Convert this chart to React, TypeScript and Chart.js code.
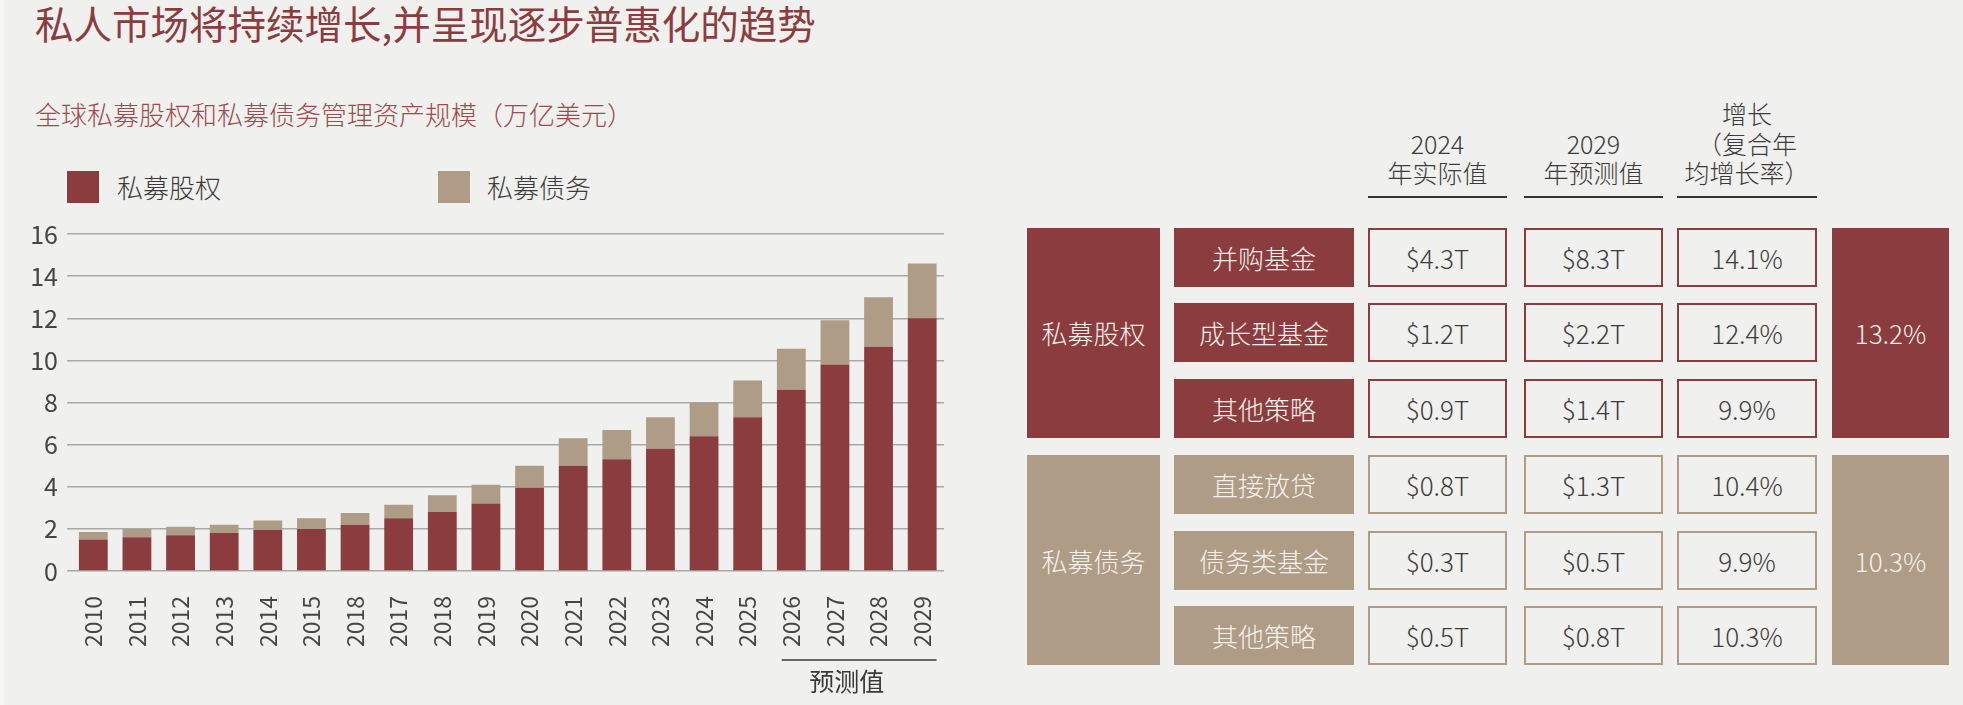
import React, { useEffect, useRef } from 'react';
import { Chart, registerables } from 'chart.js';

Chart.register(...registerables);

// Global private equity / private credit AUM (trillion USD)
const years = ['2010', '2011', '2012', '2013', '2014', '2015', '2018', '2017', '2018', '2019', '2020', '2021', '2022', '2023', '2024', '2025', '2026', '2027', '2028', '2029'];
const privateEquity = [1.5, 1.6, 1.7, 1.8, 1.95, 2.0, 2.2, 2.5, 2.8, 3.2, 3.95, 5.0, 5.3, 5.8, 6.4, 7.3, 8.6, 9.8, 10.65, 12.0];
const privateCredit = [0.35, 0.4, 0.4, 0.4, 0.45, 0.5, 0.55, 0.65, 0.8, 0.9, 1.05, 1.3, 1.4, 1.5, 1.6, 1.75, 1.95, 2.1, 2.35, 2.6];
const seriesNames = ['私募股权', '私募债务'];
const yMin = 0;
const yMax = 16;
const yStep = 2;
const forecastStartIndex = 16;
const forecastLabel = '预测值';

const titleText = '私人市场将持续增长,并呈现逐步普惠化的趋势';
const subtitleText = '全球私募股权和私募债务管理资产规模（万亿美元）';

// Strategy breakdown table
const groupNames = ['私募股权', '私募债务'];
const columnHeaders = [['2024', '年实际值'], ['2029', '年预测值'], ['增长', '（复合年', '均增长率）']];
const equityStrategies = ['并购基金', '成长型基金', '其他策略'];
const equityAum2024 = [4.3, 1.2, 0.9];
const equityAum2029 = [8.3, 2.2, 1.4];
const equityCagr = [14.1, 12.4, 9.9];
const equityGroupCagr = 13.2;
const creditStrategies = ['直接放贷', '债务类基金', '其他策略'];
const creditAum2024 = [0.8, 0.3, 0.5];
const creditAum2029 = [1.3, 0.5, 0.8];
const creditCagr = [10.4, 9.9, 10.3];
const creditGroupCagr = 10.3;

const RED = '#8b3c3f';
const TAN = '#ae9c87';
const BG = '#f0f0ee';
const TEXT = '#3c3c3c';
const GRID = '#a8a8a8';
const FONT = '"Noto Sans CJK SC", "Noto Sans", sans-serif';

const fmtT = (v: number) => `$${v.toFixed(1)}T`;
const fmtPct = (v: number) => `${v.toFixed(1)}%`;

// Bracket line and caption under the forecast years
const forecastMarker = {
  id: 'forecastMarker',
  afterDraw(chart: any) {
    const xs = chart.scales.x;
    const area = chart.chartArea;
    const ctx = chart.ctx;
    const step = xs.getPixelForValue(1) - xs.getPixelForValue(0);
    const x0 = xs.getPixelForValue(forecastStartIndex) - step * 0.22;
    const x1 = xs.getPixelForValue(years.length - 1) + step * 0.33;
    const y = area.bottom + 89;
    ctx.save();
    ctx.strokeStyle = '#3a3a3a';
    ctx.lineWidth = 1.5;
    ctx.beginPath();
    ctx.moveTo(x0, y);
    ctx.lineTo(x1, y);
    ctx.stroke();
    ctx.fillStyle = '#3a3a3a';
    ctx.font = `25px ${FONT}`;
    ctx.textAlign = 'center';
    ctx.textBaseline = 'middle';
    const tx = (xs.getPixelForValue(forecastStartIndex + 1) + xs.getPixelForValue(forecastStartIndex + 2)) / 2 - 10;
    ctx.fillText(forecastLabel, tx, area.bottom + 110);
    ctx.restore();
  },
};

function BarChart() {
  const ref = useRef<HTMLCanvasElement | null>(null);
  useEffect(() => {
    if (!ref.current) return;
    const chart = new Chart(ref.current, {
      type: 'bar',
      data: {
        labels: years,
        datasets: [
          { label: seriesNames[0], data: privateEquity, backgroundColor: RED, barPercentage: 0.66, categoryPercentage: 1 },
          { label: seriesNames[1], data: privateCredit, backgroundColor: TAN, barPercentage: 0.66, categoryPercentage: 1 },
        ],
      },
      options: {
        responsive: false,
        maintainAspectRatio: false,
        animation: false,
        layout: { padding: { top: 20, right: 16, left: 0, bottom: 0 } },
        plugins: { legend: { display: false }, tooltip: { enabled: false } },
        scales: {
          x: {
            stacked: true,
            grid: { display: false },
            border: { display: false },
            ticks: {
              color: '#454545',
              font: { family: FONT, size: 23 },
              minRotation: 90,
              maxRotation: 90,
              autoSkip: false,
              padding: 17,
            },
            afterFit: (s: any) => {
              s.height = 129;
              s.paddingLeft = 0;
              s.paddingRight = 0;
            },
          },
          y: {
            stacked: true,
            min: yMin,
            max: yMax,
            ticks: { stepSize: yStep, color: '#454545', font: { family: FONT, size: 25 }, padding: 9 },
            grid: { color: GRID, lineWidth: 1.5, drawTicks: true, tickLength: 4.5, tickColor: GRID },
            border: { display: false },
            afterFit: (s: any) => {
              s.width = 71.5;
              s.paddingTop = 0;
              s.paddingBottom = 0;
            },
          },
        },
      },
      plugins: [forecastMarker],
    } as any);
    return () => chart.destroy();
  }, []);
  return (
    <canvas
      ref={ref}
      width={960}
      height={486}
      style={{ position: 'absolute', left: 0, top: 214, width: 960, height: 486 }}
    />
  );
}

function Text({ x, y, w, h, children, style }: any) {
  return (
    <div
      style={{
        position: 'absolute', left: x, top: y, width: w, height: h,
        display: 'flex', alignItems: 'center', justifyContent: 'center',
        fontFamily: FONT, whiteSpace: 'nowrap', ...style,
      }}
    >
      {children}
    </div>
  );
}

const colX = [1368, 1524, 1677];
const colW = [139, 139, 140];
const subX = 1174;
const subW = 180;
const groupX = 1027;
const groupW = 133;
const rightX = 1832;
const rightW = 117;
const rowH = 59;
const rowStep = 75.5;
const groupTops = [227.5, 455];

function Group({ top, color, name, strategies, a2024, a2029, cagr, groupCagr }: any) {
  const cells: any[] = [];
  strategies.forEach((s: string, i: number) => {
    const y = top + i * rowStep;
    cells.push(
      <Text key={`s${i}`} x={subX} y={y} w={subW} h={rowH} style={{ background: color, color: '#f6f0ea', fontSize: 26, fontWeight: 300 }}>{s}</Text>
    );
    [fmtT(a2024[i]), fmtT(a2029[i]), fmtPct(cagr[i])].forEach((v, j) => {
      cells.push(
        <Text key={`v${i}-${j}`} x={colX[j]} y={y} w={colW[j]} h={rowH}
          style={{ border: `2px solid ${color}`, boxSizing: 'border-box', color: TEXT, fontSize: 26, fontWeight: 300 }}>{v}</Text>
      );
    });
  });
  const groupH = rowStep * 2 + rowH;
  return (
    <>
      <Text x={groupX} y={top} w={groupW} h={groupH} style={{ background: color, color: '#f6f0ea', fontSize: 26, fontWeight: 300 }}>{name}</Text>
      {cells}
      <Text x={rightX} y={top} w={rightW} h={groupH} style={{ background: color, color: '#f6f0ea', fontSize: 26, fontWeight: 300 }}>{fmtPct(groupCagr)}</Text>
    </>
  );
}

export default function App() {
  const headerLineCenters = [113, 143, 172];
  return (
    <div style={{ position: 'absolute', left: 0, top: 0, width: 1963, height: 705, background: BG, overflow: 'hidden' }}>
      <div style={{ position: 'absolute', left: 0, top: 0, width: 4, height: 705, background: '#f7f7f6' }} />
      <div style={{ position: 'absolute', left: 35, top: 2, fontFamily: FONT, fontSize: 38.5, lineHeight: '40px', color: RED, whiteSpace: 'nowrap' }}>{titleText}</div>
      <div style={{ position: 'absolute', left: 35, top: 100, fontFamily: FONT, fontSize: 26, lineHeight: '28px', color: '#9d4b4d', fontWeight: 300, whiteSpace: 'nowrap' }}>{subtitleText}</div>

      <div style={{ position: 'absolute', left: 67, top: 171, width: 32, height: 32, background: RED }} />
      <div style={{ position: 'absolute', left: 117, top: 173, fontFamily: FONT, fontSize: 26, lineHeight: '28px', color: TEXT, fontWeight: 300 }}>{seriesNames[0]}</div>
      <div style={{ position: 'absolute', left: 438, top: 171, width: 32, height: 32, background: TAN }} />
      <div style={{ position: 'absolute', left: 487, top: 173, fontFamily: FONT, fontSize: 26, lineHeight: '28px', color: TEXT, fontWeight: 300 }}>{seriesNames[1]}</div>

      <BarChart />

      {columnHeaders.map((lines, j) => (
        <React.Fragment key={j}>
          {lines.map((t, k) => {
            const cy = headerLineCenters[headerLineCenters.length - lines.length + k];
            return (
              <Text key={k} x={colX[j] - 20} y={cy - 15} w={colW[j] + 40} h={30} style={{ color: TEXT, fontSize: 25, fontWeight: 300 }}>{t}</Text>
            );
          })}
          <div style={{ position: 'absolute', left: colX[j], top: 196, width: colW[j], height: 1.5, background: '#333' }} />
        </React.Fragment>
      ))}

      <Group top={groupTops[0]} color={RED} name={groupNames[0]} strategies={equityStrategies}
        a2024={equityAum2024} a2029={equityAum2029} cagr={equityCagr} groupCagr={equityGroupCagr} />
      <Group top={groupTops[1]} color={TAN} name={groupNames[1]} strategies={creditStrategies}
        a2024={creditAum2024} a2029={creditAum2029} cagr={creditCagr} groupCagr={creditGroupCagr} />
    </div>
  );
}
